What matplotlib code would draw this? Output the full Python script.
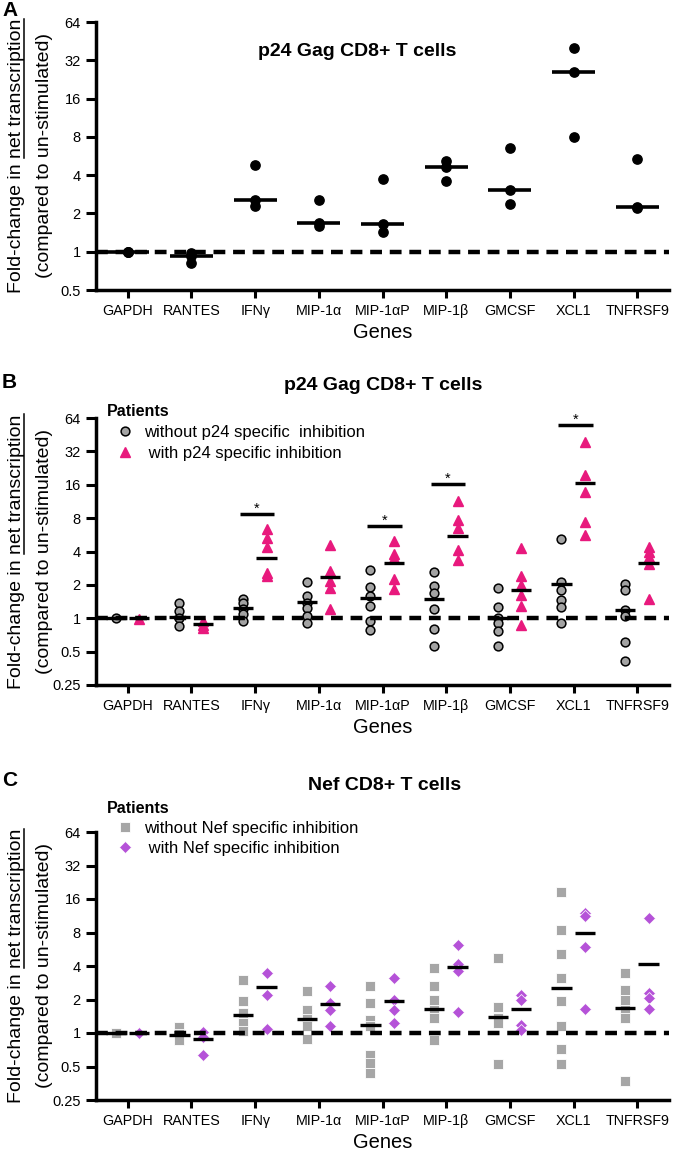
import numpy as np
import matplotlib
matplotlib.use('Agg')
import matplotlib.pyplot as plt
from matplotlib.lines import Line2D
from matplotlib.ticker import FixedLocator, NullLocator

plt.rcParams['font.family'] = ['Liberation Sans', 'DejaVu Sans']
plt.rcParams['lines.scale_dashes'] = False

# ---------------- data ----------------
genes = ['GAPDH', 'RANTES', 'IFNγ', 'MIP-1α', 'MIP-1αP', 'MIP-1β', 'GMCSF', 'XCL1', 'TNFRSF9']

# Panel A: p24 Gag CD8+ T cells (3 donors)
a_values = [
    [1.0, 1.0, 1.0],
    [0.97, 0.92, 0.81],
    [4.8, 2.55, 2.27],
    [2.56, 1.68, 1.6],
    [3.7, 1.64, 1.44],
    [5.2, 4.6, 3.57],
    [6.56, 3.05, 2.37],
    [40.0, 26.0, 8.0],
    [5.4, 2.25, 2.2],
]
a_medians = [1.0, 0.92, 2.53, 1.67, 1.64, 4.62, 3.03, 26.0, 2.24]

# Panel B: p24 Gag CD8+ T cells, patients without / with p24 specific inhibition
b_without = [
    [1.0],
    [1.36, 1.16, 1.0, 0.86],
    [1.48, 1.36, 1.2, 1.09, 0.95],
    [2.12, 1.59, 1.38, 1.25, 1.05, 0.9],
    [2.72, 1.9, 1.6, 1.29, 0.95, 0.79],
    [2.6, 1.95, 1.68, 1.22, 0.8, 0.56],
    [1.86, 1.27, 1.0, 0.9, 0.76, 0.56],
    [5.16, 2.13, 1.8, 1.46, 1.27, 0.9],
    [2.03, 1.78, 1.18, 1.05, 0.61, 0.41],
]
b_without_med = [1.0, 1.035, 1.23, 1.41, 1.51, 1.48, 1.0, 2.03, 1.18]
b_with = [
    [0.98],
    [0.95, 0.87, 0.82],
    [6.39, 5.31, 4.37, 2.57, 2.4],
    [4.62, 2.66, 2.16, 1.89, 1.2],
    [4.95, 3.83, 3.5, 2.24, 1.85],
    [11.3, 7.74, 6.5, 4.16, 3.34],
    [4.26, 2.4, 1.99, 1.62, 1.29, 0.87],
    [39.2, 19.4, 13.7, 7.4, 5.6],
    [4.4, 4.0, 3.6, 3.1, 1.5],
]
b_with_med = [1.0, 0.88, 3.46, 2.37, 3.12, 5.5, 1.8, 16.7, 3.12]
b_sig_genes = ['IFNγ', 'MIP-1αP', 'MIP-1β', 'XCL1']
b_sig_heights = [8.78, 6.85, 16.3, 55.4]

# Panel C: Nef CD8+ T cells, patients without / with Nef specific inhibition
c_without = [
    [1.0],
    [1.13, 0.97, 0.87],
    [3.0, 1.92, 1.5, 1.22, 1.05],
    [2.4, 1.62, 1.33, 1.15, 0.88],
    [2.62, 1.86, 1.32, 1.15, 0.64, 0.54, 0.44],
    [3.82, 2.62, 1.99, 1.62, 1.36, 0.86],
    [4.72, 1.73, 1.36, 1.23, 0.53],
    [18.6, 8.4, 5.13, 3.1, 1.92, 1.15, 0.72, 0.53],
    [3.45, 2.44, 1.99, 1.62, 1.36, 0.37],
]
c_without_med = [1.0, 0.96, 1.46, 1.33, 1.19, 1.64, 1.39, 2.53, 1.67]
c_with = [
    [0.99],
    [1.03, 0.93, 0.64],
    [3.43, 2.2, 1.09],
    [2.65, 1.86, 1.6, 1.15],
    [3.11, 1.99, 1.62, 1.23],
    [6.2, 4.18, 3.57, 1.56],
    [2.2, 1.99, 1.19, 1.07],
    [11.9, 11.2, 5.9, 1.64],
    [10.7, 2.31, 2.06, 1.64],
]
c_with_med = [1.0, 0.88, 2.57, 1.82, 1.92, 3.9, 1.64, 7.86, 4.18]

yticks_a = [0.5, 1, 2, 4, 8, 16, 32, 64]
yticklabels_a = ['0.5', '1', '2', '4', '8', '16', '32', '64']
yticks_bc = [0.25, 0.5, 1, 2, 4, 8, 16, 32, 64]
yticklabels_bc = ['0.25', '0.5', '1', '2', '4', '8', '16', '32', '64']

# ---------------- styling ----------------
GRAY = '#A3A3A3'
PINK = '#E8197D'
SQGRAY = '#A6A6A6'
PURPLE = '#B552D8'
W, H = 680, 1153

fig = plt.figure(figsize=(W / 100, H / 100), dpi=100)


def px_axes(top, bottom):
    return [96 / W, 1 - bottom / H, 573 / W, (bottom - top) / H]


axA = fig.add_axes(px_axes(22, 290))
axB = fig.add_axes(px_axes(418, 685))
axC = fig.add_axes(px_axes(832, 1100))


def style(ax, ymin, ticks, labels):
    ax.set_yscale('log', base=2)
    ax.set_ylim(ymin, 64)
    ax.set_xlim(-0.5, 8.5)
    ax.yaxis.set_major_locator(FixedLocator(ticks))
    ax.yaxis.set_minor_locator(NullLocator())
    ax.set_yticklabels(labels)
    ax.set_xticks(range(len(genes)))
    ax.set_xticklabels(genes)
    for s in ['top', 'right']:
        ax.spines[s].set_visible(False)
    for s in ['left', 'bottom']:
        ax.spines[s].set_linewidth(2.5)
    ax.tick_params(axis='y', width=2.2, length=7, direction='out', labelsize=10.5, pad=4)
    ax.tick_params(axis='x', width=2.2, length=6, direction='out', labelsize=10.3, pad=4)
    ax.set_xlabel('Genes', fontsize=14.5, labelpad=4)
    ax.axhline(1, color='black', lw=3.2, ls=(0, (8.5, 5.6)), zorder=6)


style(axA, 0.5, yticks_a, yticklabels_a)
style(axB, 0.25, yticks_bc, yticklabels_bc)
style(axC, 0.25, yticks_bc, yticklabels_bc)

# ---- Panel A ----
for i, vals in enumerate(a_values):
    axA.plot(np.full(len(vals), i), vals, 'o', color='black', ms=6.7, zorder=4, clip_on=False)
axA.hlines(a_medians, np.arange(9) - 0.34, np.arange(9) + 0.34, color='black', lw=2.6, zorder=7)
axA.text(0.455, 0.89, 'p24 Gag CD8+ T cells', transform=axA.transAxes, ha='center', va='center',
         fontsize=14, weight='bold')

# ---- Panel B ----
OFF_L, OFF_R, MW = -0.19, 0.18, 0.32
hB = []
for i, vals in enumerate(b_without):
    h, = axB.plot(np.full(len(vals), i + OFF_L), vals, 'o', mfc=GRAY, mec='black', mew=1.1, ms=6.3,
                  zorder=4, clip_on=False)
    if i == 0:
        hB.append(h)
for i, vals in enumerate(b_with):
    h, = axB.plot(np.full(len(vals), i + OFF_R), vals, '^', color=PINK, mec=PINK, ms=7, zorder=4,
                  clip_on=False)
    if i == 0:
        hB.append(h)
xs = np.arange(9)
axB.hlines(b_without_med, xs + OFF_L - MW / 2, xs + OFF_L + MW / 2, color='black', lw=2.4, zorder=7)
axB.hlines(b_with_med, xs + OFF_R - MW / 2, xs + OFF_R + MW / 2, color='black', lw=2.4, zorder=7)
for g, hgt in zip(b_sig_genes, b_sig_heights):
    i = genes.index(g)
    axB.hlines(hgt, i - 0.24, i + 0.30, color='black', lw=2.5, zorder=7)
    axB.annotate('*', xy=(i + 0.03, hgt), xytext=(0, 3.5), textcoords='offset points',
                 ha='center', va='center', fontsize=10.5)
legB = axB.legend(hB, ['without p24 specific  inhibition', ' with p24 specific inhibition'],
                  title='Patients', loc='upper left', bbox_to_anchor=(107 / W, 1 - 404 / H),
                  bbox_transform=fig.transFigure, frameon=False, borderpad=0, borderaxespad=0,
                  handlelength=2.2, handletextpad=0.0, labelspacing=0.36, alignment='left',
                  fontsize=12, title_fontproperties={'weight': 'bold', 'size': 11.5})
fig.text(383 / W, 1 - 386 / H, 'p24 Gag CD8+ T cells', ha='center', va='center', fontsize=14, weight='bold')

# ---- Panel C ----
hC = []
for i, vals in enumerate(c_without):
    h, = axC.plot(np.full(len(vals), i + OFF_L), vals, 's', mfc=SQGRAY, mec='white', mew=0.6, ms=7.3,
                  zorder=4, clip_on=False)
    if i == 0:
        hC.append(h)
for i, vals in enumerate(c_with):
    h, = axC.plot(np.full(len(vals), i + OFF_R), vals, 'D', mfc=PURPLE, mec='white', mew=0.5, ms=6.3,
                  zorder=4, clip_on=False)
    if i == 0:
        hC.append(h)
axC.hlines(c_without_med, xs + OFF_L - MW / 2, xs + OFF_L + MW / 2, color='black', lw=2.4, zorder=7)
axC.hlines(c_with_med, xs + OFF_R - MW / 2, xs + OFF_R + MW / 2, color='black', lw=2.4, zorder=7)
legC = axC.legend(hC, ['without Nef specific inhibition', ' with Nef specific inhibition'],
                  title='Patients', loc='upper left', bbox_to_anchor=(107 / W, 1 - 801 / H),
                  bbox_transform=fig.transFigure, frameon=False, borderpad=0, borderaxespad=0,
                  handlelength=2.2, handletextpad=0.0, labelspacing=0.3, alignment='left',
                  fontsize=12, title_fontproperties={'weight': 'bold', 'size': 11.5})
fig.text(385 / W, 1 - 786 / H, 'Nef CD8+ T cells', ha='center', va='center', fontsize=14, weight='bold')

# ---- panel letters ----
for letter, yc in zip(['A', 'B', 'C'], [10, 383, 780]):
    fig.text(2 / W, 1 - yc / H, letter, ha='left', va='center', fontsize=15, weight='bold')

# ---- y labels (two lines, "net transcription" underlined) ----
line1 = 'Fold-change in net transcription'
prefix = 'Fold-change in '
line2 = '(compared to un-stimulated)'
ylab_texts = []
for top, bottom in [(22, 290), (418, 685), (832, 1100)]:
    yc = 1 - (top + bottom) / 2 / H
    t1 = fig.text(17 / W, yc, line1, rotation=90, ha='center', va='center', fontsize=14)
    fig.text(45 / W, yc, line2, rotation=90, ha='center', va='center', fontsize=14)
    ylab_texts.append(t1)

fig.canvas.draw()
renderer = fig.canvas.get_renderer()
inv = fig.transFigure.inverted()
for t in ylab_texts:
    bb = t.get_window_extent(renderer)
    prop = t.get_fontproperties()
    w_pre, _, _ = renderer.get_text_width_height_descent(prefix, prop, ismath=False)
    w_all, _, d = renderer.get_text_width_height_descent(line1, prop, ismath=False)
    sc = bb.height / w_all
    y0 = bb.y0 + w_pre * sc
    y1 = bb.y1
    xu = bb.x1 - d + 2.5
    (fx0, fy0), (fx1, fy1) = inv.transform([(xu, y0), (xu, y1)])
    fig.add_artist(Line2D([fx0, fx1], [fy0, fy1], transform=fig.transFigure, color='black', lw=1.1))

fig.savefig('out.png', dpi=100)
